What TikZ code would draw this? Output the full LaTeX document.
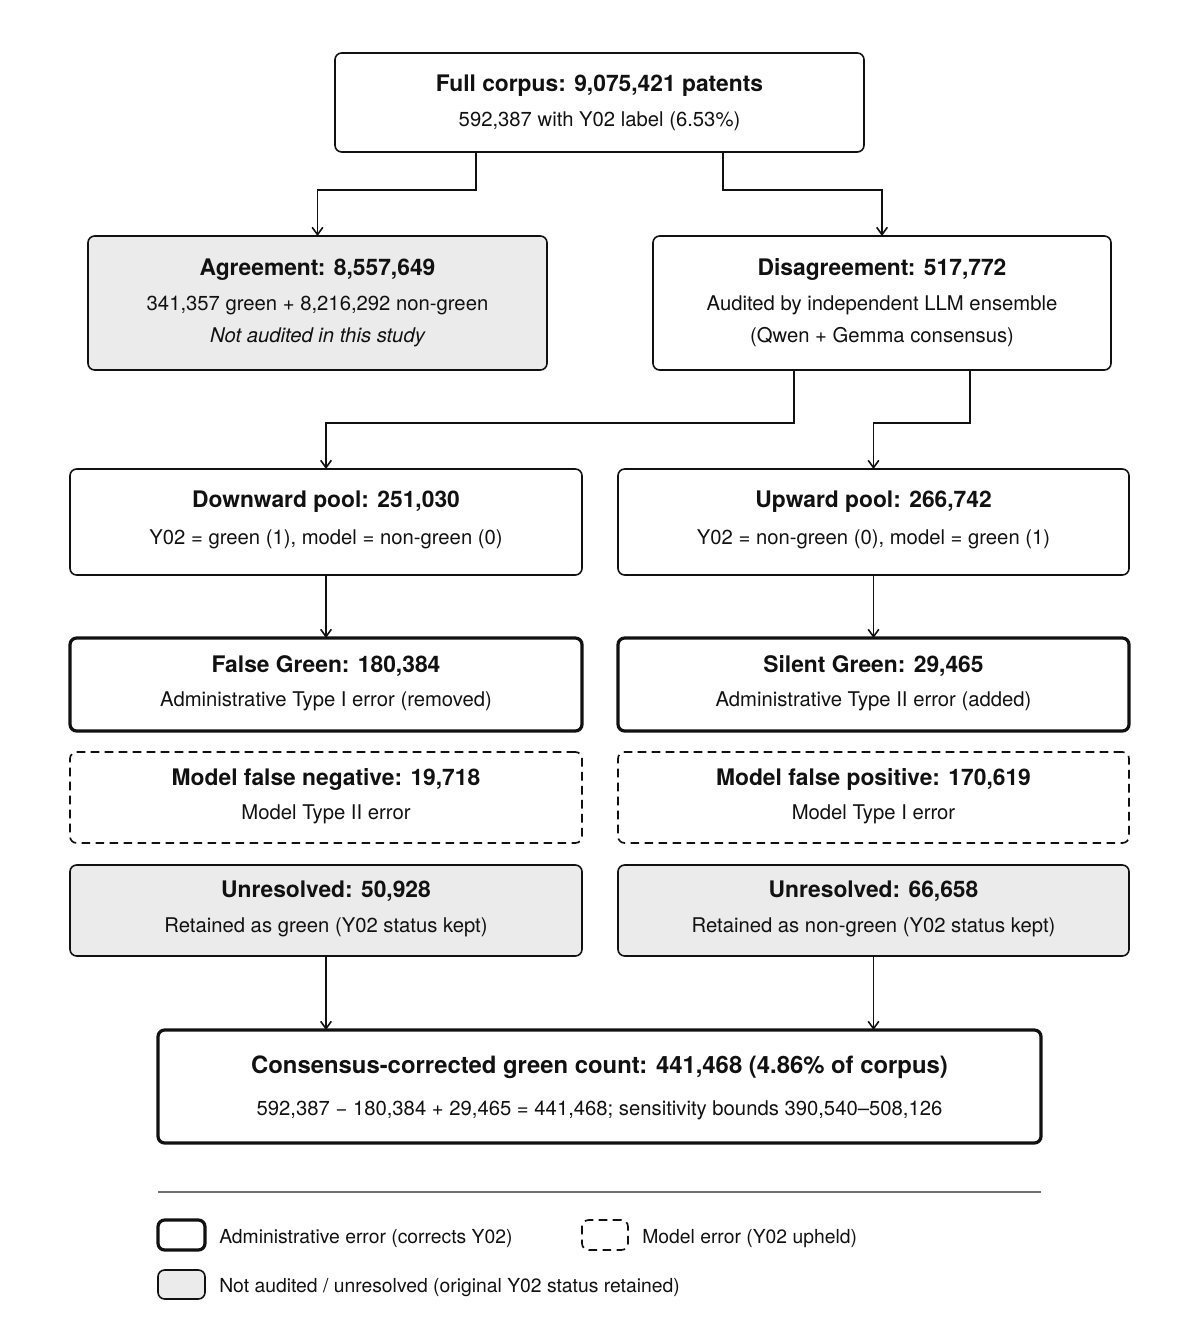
\documentclass[tikz,border=0pt]{standalone}
\usepackage{fontspec}
\setmainfont{TeX Gyre Heros}
\usetikzlibrary{arrows.meta}
\definecolor{ink}{HTML}{111111}
\definecolor{graybox}{HTML}{EBEBEB}
\definecolor{rulegray}{HTML}{707070}
\tikzset{
  box/.style={draw=ink, line width=1.2pt, rounded corners=5pt, inner sep=0pt, outer sep=0pt},
  adm/.style={box, line width=2.4pt},
  modelbox/.style={box, line width=1.25pt, dash pattern=on 6.5pt off 4pt},
  greybox/.style={box, fill=graybox},
  ttl/.style={anchor=base, font=\fontsize{17.1}{20}\selectfont\bfseries, text=ink, inner sep=0pt},
  bigttl/.style={anchor=base, font=\fontsize{17.9}{21}\selectfont\bfseries, text=ink, inner sep=0pt},
  sub/.style={anchor=base, font=\fontsize{15.2}{18}\selectfont, text=ink, inner sep=0pt},
  leg/.style={anchor=base west, font=\fontsize{14.5}{17}\selectfont, text=ink, inner sep=0pt},
  arr/.style={draw=ink, line width=1.2pt, -{Straight Barb[length=5.5pt,width=8pt,line width=1.2pt]}},
}
\newcommand{\bx}[6]{\node[#2, minimum width={(#5-#3)*0.75pt}, minimum height={(#6-#4)*0.75pt}] (#1) at ({(#3+#5)/2},{(#4+#6)/2}) {};}
\begin{document}
\begin{tikzpicture}[x=0.75pt, y=-0.75pt]
\useasboundingbox (0,0) rectangle (1200,1341);

% boxes
\bx{full}{box}{335}{53}{864}{152}
\bx{agree}{greybox}{88}{236}{547}{370}
\bx{dis}{box}{653}{236}{1111}{370}
\bx{down}{box}{70}{469}{582}{575}
\bx{up}{box}{618}{469}{1129}{575}
\bx{fg}{adm}{70}{638}{582}{731}
\bx{sg}{adm}{618}{638}{1129}{731}
\bx{mfn}{modelbox}{70}{752}{582}{843}
\bx{mfp}{modelbox}{618}{752}{1129}{843}
\bx{unl}{greybox}{70}{865}{582}{956}
\bx{unr}{greybox}{618}{865}{1129}{956}
\bx{cons}{adm}{158}{1030}{1041}{1143}

% texts
\node[ttl] (full-t) at (599.5,92) {Full corpus: 9,075,421 patents};
\node[sub] (full-s) at (599.5,127) {592,387 with Y02 label (6.53\%)};

\node[ttl] (agree-t) at (317.5,275.5) {Agreement: 8,557,649};
\node[sub] (agree-s) at (317.5,310.5) {341,357 green + 8,216,292 non-green};
\node[sub] (agree-s2) at (317.5,342) {\itshape Not audited in this study};

\node[ttl] (dis-t) at (882,275.5) {Disagreement: 517,772};
\node[sub] (dis-s) at (882,310.5) {Audited by independent LLM ensemble};
\node[sub] (dis-s2) at (882,342) {(Qwen + Gemma consensus)};

\node[ttl] (down-t) at (326,507.5) {Downward pool: 251,030};
\node[sub] (down-s) at (326,544) {Y02 = green (1), model = non-green (0)};
\node[ttl] (up-t) at (873.5,507.5) {Upward pool: 266,742};
\node[sub] (up-s) at (873.5,544) {Y02 = non-green (0), model = green (1)};

\node[ttl] (fg-t) at (326,672.5) {False Green: 180,384};
\node[sub] (fg-s) at (326,706) {Administrative Type I error (removed)};
\node[ttl] (sg-t) at (873.5,672.5) {Silent Green: 29,465};
\node[sub] (sg-s) at (873.5,706) {Administrative Type II error (added)};

\node[ttl] (mfn-t) at (326,785.5) {Model false negative: 19,718};
\node[sub] (mfn-s) at (326,819) {Model Type II error};
\node[ttl] (mfp-t) at (873.5,785.5) {Model false positive: 170,619};
\node[sub] (mfp-s) at (873.5,819) {Model Type I error};

\node[ttl] (unl-t) at (326,897.5) {Unresolved: 50,928};
\node[sub] (unl-s) at (326,932) {Retained as green (Y02 status kept)};
\node[ttl] (unr-t) at (873.5,897.5) {Unresolved: 66,658};
\node[sub] (unr-s) at (873.5,932) {Retained as non-green (Y02 status kept)};

\node[bigttl] (cons-t) at (599.5,1073) {Consensus-corrected green count: 441,468 (4.86\% of corpus)};
\node[sub] (cons-s) at (599.5,1115) {592,387 − 180,384 + 29,465 = 441,468; sensitivity bounds 390,540–508,126};

% connectors
\draw[arr] (476,0 |- full.south) -- (476,190) -| (agree.north);
\draw[arr] (723,0 |- full.south) -- (723,190) -| (dis.north);
\draw[arr] (794,0 |- dis.south) -- (794,423) -| (down.north);
\draw[arr] (970,0 |- dis.south) -- (970,423) -| (up.north);
\draw[arr] (down.south) -- (fg.north);
\draw[arr] (up.south) -- (sg.north);
\draw[arr] (unl.south) -- (unl.south |- cons.north);
\draw[arr] (unr.south) -- (unr.south |- cons.north);

% legend
\coordinate (ruleL) at (158,1192);
\coordinate (ruleR) at (1041,1192);
\draw[rulegray, line width=0.9pt] (ruleL) -- (ruleR);
\bx{legadm}{adm}{158}{1220}{205}{1250}
\bx{legmod}{modelbox}{582}{1220}{628}{1250}
\bx{leggrey}{greybox}{158}{1270}{205}{1299}
\node[leg] (legadm-t) at (219,1243) {Administrative error (corrects Y02)};
\node[leg] (legmod-t) at (642,1243) {Model error (Y02 upheld)};
\node[leg] (leggrey-t) at (219,1292) {Not audited / unresolved (original Y02 status retained)};
\end{tikzpicture}
\end{document}
